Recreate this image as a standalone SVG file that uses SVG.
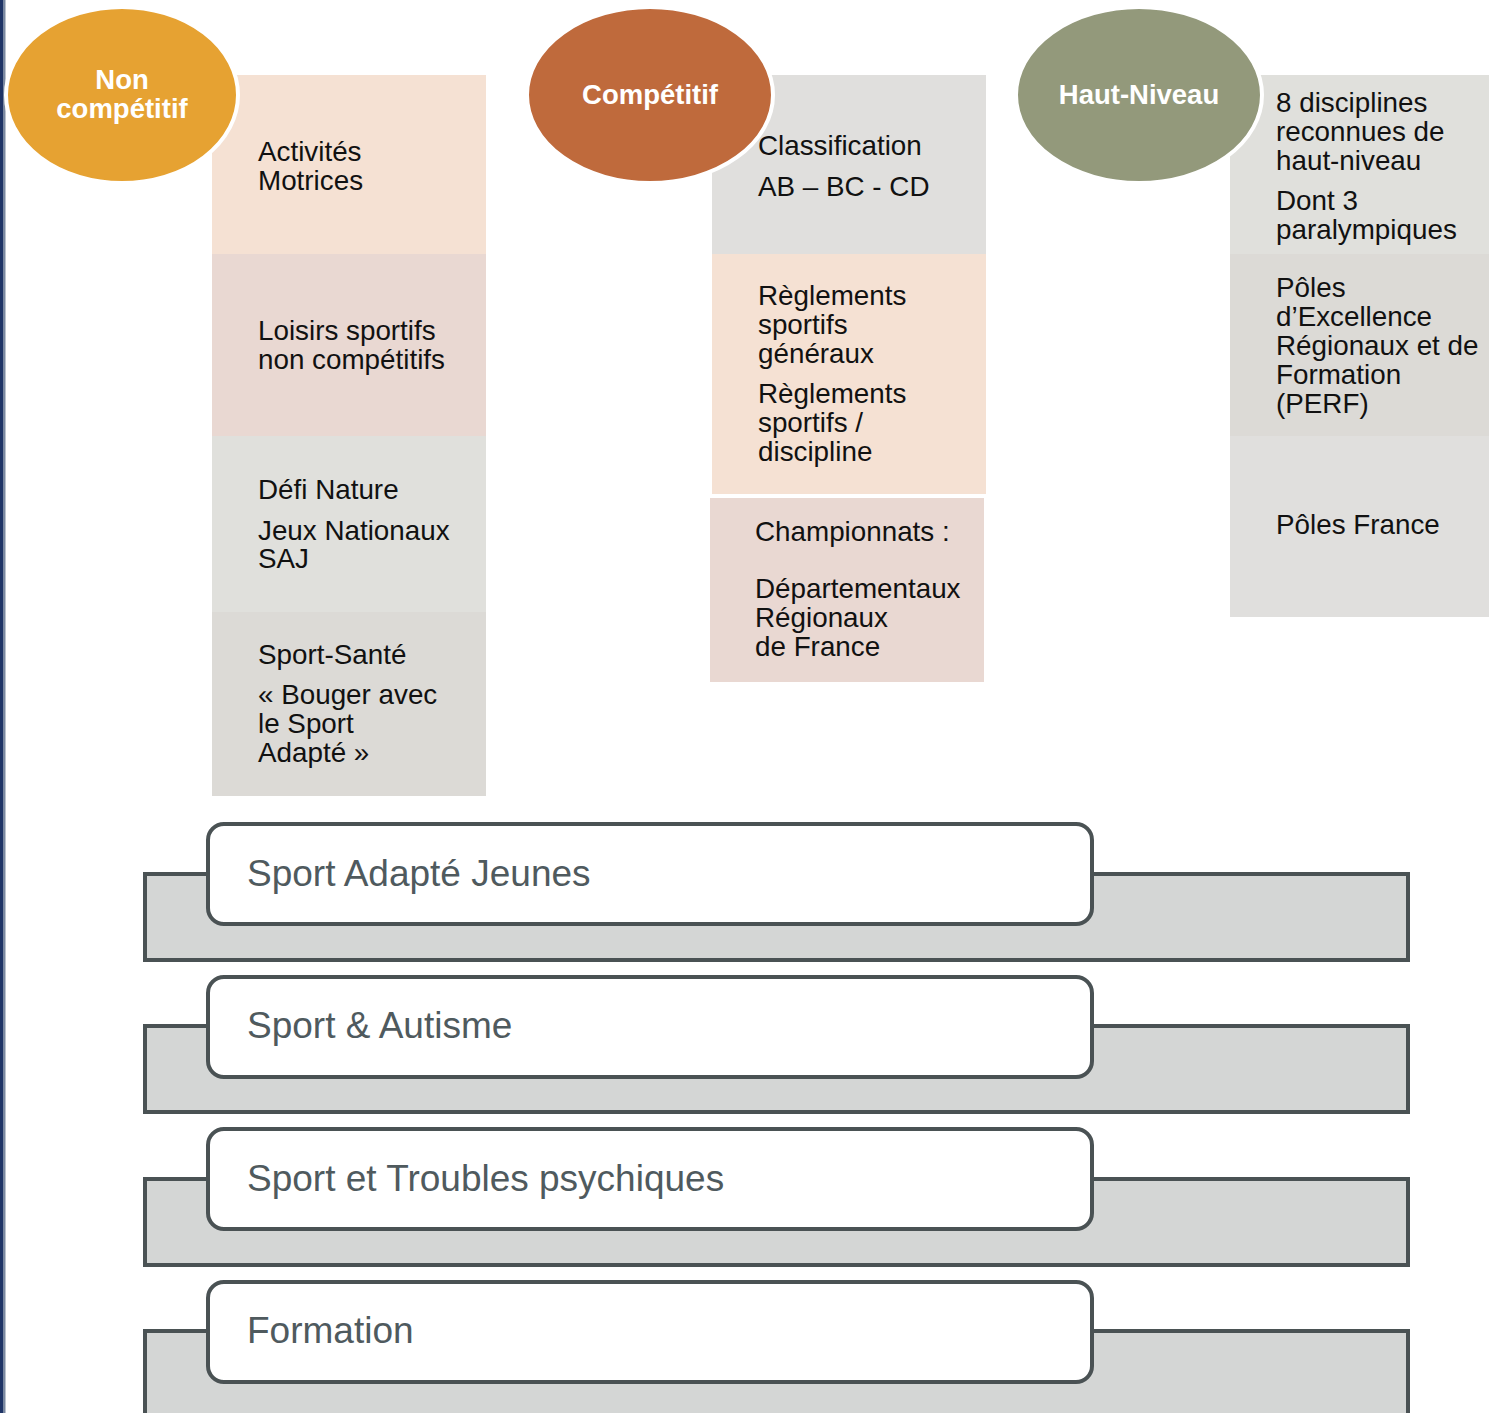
<svg xmlns="http://www.w3.org/2000/svg" width="1489" height="1413" viewBox="0 0 1489 1413">
<style>
.t{font-family:"Liberation Sans",Arial,sans-serif;font-size:27.8px;fill:#111}
.h{font-family:"Liberation Sans",Arial,sans-serif;font-size:27.5px;font-weight:bold;fill:#fff;text-anchor:middle}
.b{font-family:"Liberation Sans",Arial,sans-serif;font-size:37px;fill:#4f5a5e}
.band{fill:#d4d6d5;stroke:#4a5254;stroke-width:4}
.tab{fill:#fff;stroke:#4a5254;stroke-width:4}
.ell{stroke:#fff;stroke-width:4}
.sep{stroke-width:2;fill:none}
.peach{fill:#f5e1d3}
.pink{fill:#e9d8d2}
.grey1{fill:#e0e0dc}
.grey2{fill:#dcdad6}
.grey3{fill:#e0dfdd}
</style>
<rect width="1489" height="1413" fill="#fff"/>
<rect x="0" y="0" width="3" height="1413" fill="#1f3466"/>
<rect x="3" y="0" width="2.5" height="1413" fill="#7a88a0"/>

<g id="col1">
<rect class="peach" x="212" y="75" width="274" height="179"/>
<rect class="pink" x="212" y="254" width="274" height="182"/>
<rect class="grey1" x="212" y="436" width="274" height="176"/>
<rect class="grey2" x="212" y="612" width="274" height="184"/>
<text class="t" x="258" y="161">Activités</text>
<text class="t" x="258" y="190">Motrices</text>
<text class="t" x="258" y="340">Loisirs sportifs</text>
<text class="t" x="258" y="369">non compétitifs</text>
<text class="t" x="258" y="499">Défi Nature</text>
<text class="t" x="258" y="540">Jeux Nationaux</text>
<text class="t" x="258" y="568">SAJ</text>
<text class="t" x="258" y="664">Sport-Santé</text>
<text class="t" x="258" y="704">« Bouger avec</text>
<text class="t" x="258" y="733">le Sport</text>
<text class="t" x="258" y="762">Adapté »</text>
</g>
<g id="node-noncompetitif">
<ellipse class="ell" cx="122" cy="95" rx="116" ry="88" fill="#e6a232"/>
<text class="h" x="122" y="89">Non</text>
<text class="h" x="122" y="118">compétitif</text>
</g>

<g id="col2">
<rect class="grey3" x="712" y="75" width="274" height="179"/>
<rect class="peach" x="712" y="254" width="274" height="240"/>
<rect class="pink" x="710" y="498" width="274" height="184"/>
<text class="t" x="758" y="155">Classification</text>
<text class="t" x="758" y="196">AB – BC - CD</text>
<text class="t" x="758" y="305">Règlements</text>
<text class="t" x="758" y="334">sportifs</text>
<text class="t" x="758" y="363">généraux</text>
<text class="t" x="758" y="403">Règlements</text>
<text class="t" x="758" y="432">sportifs /</text>
<text class="t" x="758" y="461">discipline</text>
<text class="t" x="755" y="541">Championnats :</text>
<text class="t" x="755" y="598">Départementaux</text>
<text class="t" x="755" y="627">Régionaux</text>
<text class="t" x="755" y="656">de France</text>
</g>
<g id="node-competitif">
<ellipse class="ell" cx="650" cy="95" rx="123" ry="88" fill="#bf6a3c"/>
<text class="h" x="650" y="104">Compétitif</text>
</g>

<g id="col3">
<rect class="grey1" x="1230" y="75" width="259" height="179"/>
<rect class="grey2" x="1230" y="254" width="259" height="182"/>
<rect class="grey3" x="1230" y="436" width="259" height="181"/>
<text class="t" x="1276" y="112">8 disciplines</text>
<text class="t" x="1276" y="141">reconnues de</text>
<text class="t" x="1276" y="170">haut-niveau</text>
<text class="t" x="1276" y="210">Dont 3</text>
<text class="t" x="1276" y="239">paralympiques</text>
<text class="t" x="1276" y="297">Pôles</text>
<text class="t" x="1276" y="326">d’Excellence</text>
<text class="t" x="1276" y="355">Régionaux et de</text>
<text class="t" x="1276" y="384">Formation</text>
<text class="t" x="1276" y="413">(PERF)</text>
<text class="t" x="1276" y="534">Pôles France</text>
</g>
<g id="node-hautniveau">
<ellipse class="ell" cx="1139" cy="95" rx="123" ry="88" fill="#93997b"/>
<text class="h" x="1139" y="104">Haut-Niveau</text>
</g>

<g id="connectors"></g>

<g id="row1">
<rect class="band" x="145" y="874" width="1263" height="86"/>
<rect class="tab" x="208" y="824" width="884" height="100" rx="16"/>
<text class="b" x="247" y="886">Sport Adapté Jeunes</text>
</g>
<g id="row2">
<rect class="band" x="145" y="1026" width="1263" height="86"/>
<rect class="tab" x="208" y="977" width="884" height="100" rx="16"/>
<text class="b" x="247" y="1038">Sport &amp; Autisme</text>
</g>
<g id="row3">
<rect class="band" x="145" y="1179" width="1263" height="86"/>
<rect class="tab" x="208" y="1129" width="884" height="100" rx="16"/>
<text class="b" x="247" y="1191">Sport et Troubles psychiques</text>
</g>
<g id="row4">
<rect class="band" x="145" y="1331" width="1263" height="100"/>
<rect class="tab" x="208" y="1282" width="884" height="100" rx="16"/>
<text class="b" x="247" y="1343">Formation</text>
</g>
</svg>
